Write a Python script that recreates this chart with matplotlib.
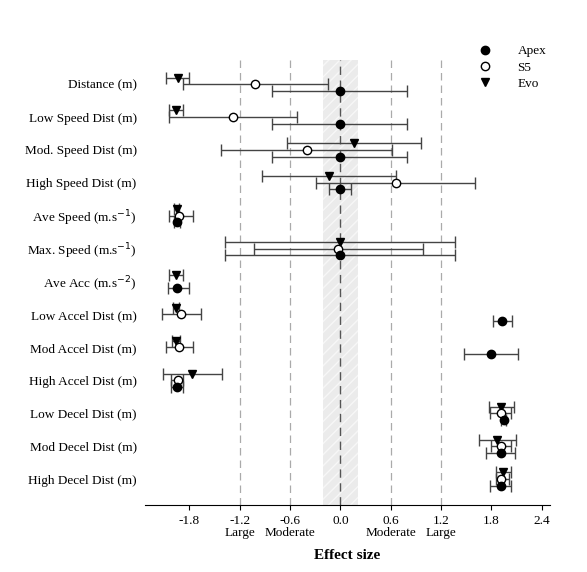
import numpy as np
import matplotlib.pyplot as plt
from matplotlib.lines import Line2D

plt.rcParams['font.family'] = ['Liberation Serif', 'DejaVu Serif']

variables = ['Distance (m)', 'Low Speed Dist (m)', 'Mod. Speed Dist (m)', 'High Speed Dist (m)',
             'Ave Speed (m.s$^{-1}$)', 'Max. Speed (m.s$^{-1}$)', 'Ave Acc (m.s$^{-2}$)',
             'Low Accel Dist (m)', 'Mod Accel Dist (m)', 'High Accel Dist (m)',
             'Low Decel Dist (m)', 'Mod Decel Dist (m)', 'High Decel Dist (m)']

# effect size, lower CI, upper CI
apex = [0.00, 0.00, 0.00, 0.00, -1.95, 0.00, -1.95, 1.93, 1.80, -1.95, 1.95, 1.91, 1.92]
apex_lo = [-0.81, -0.81, -0.81, -0.14, -1.99, -1.38, -2.05, 1.82, 1.48, -2.02, 1.92, 1.74, 1.79]
apex_hi = [0.80, 0.80, 0.80, 0.13, -1.91, 1.37, -1.80, 2.05, 2.12, -1.88, 1.98, 2.08, 2.04]

s5 = [-1.02, -1.28, -0.40, 0.66, -1.92, -0.03, np.nan, -1.90, -1.93, -1.94, 1.91, 1.92, 1.92]
s5_lo = [-1.88, -2.04, -1.42, -0.29, -2.04, -1.03, np.nan, -2.13, -2.08, -2.02, 1.78, 1.80, 1.85]
s5_hi = [-0.15, -0.52, 0.62, 1.60, -1.76, 0.98, np.nan, -1.66, -1.76, -1.88, 2.04, 2.04, 2.01]

evo = [-1.94, -1.96, 0.16, -0.14, -1.95, 0.00, -1.96, -1.96, -1.96, -1.77, 1.92, 1.87, 1.94]
evo_lo = [-2.08, -2.04, -0.64, -0.94, -1.98, -1.38, -2.04, -2.00, -2.01, -2.12, 1.77, 1.65, 1.86]
evo_hi = [-1.80, -1.88, 0.96, 0.66, -1.92, 1.37, -1.88, -1.92, -1.91, -1.41, 2.07, 2.10, 2.03]

fig = plt.figure(figsize=(5.87, 5.72), dpi=100)
ax = fig.add_axes([0.247, 0.117, 0.69, 0.778])

ax.axvspan(-0.21, 0.21, facecolor='#ebebeb', edgecolor='#f7f7f7', hatch='///', linewidth=0, zorder=0)
for xv in [-1.2, -0.6, 0.6, 1.2]:
    ax.axvline(xv, color='#aaaaaa', linestyle=(0, (6, 4)), linewidth=0.9, zorder=1)
ax.axvline(0, color='#555555', linestyle=(0, (6, 4)), linewidth=1.0, zorder=1)

y = np.arange(len(variables))
series = [(evo, evo_lo, evo_hi, -0.2, 'v', 'black'),
          (s5, s5_lo, s5_hi, 0.0, 'o', 'white'),
          (apex, apex_lo, apex_hi, 0.2, 'o', 'black')]
for vals, lo, hi, off, mk, fc in series:
    vals = np.array(vals); lo = np.array(lo); hi = np.array(hi)
    ok = ~np.isnan(vals)
    err = np.vstack([vals[ok] - lo[ok], hi[ok] - vals[ok]])
    ax.errorbar(vals[ok], y[ok] + off, xerr=err, fmt=mk, mfc=fc, mec='black', ms=6,
                ecolor='#444444', elinewidth=1.0, capsize=4, capthick=1.0, zorder=3)

ax.set_yticks(y)
ax.set_yticklabels(variables, fontsize=9.5)
ax.tick_params(axis='y', length=0, pad=6)
ax.set_ylim(12.79, -0.73)
ax.set_xlim(-2.33, 2.5)
ax.set_xticks([-1.8, -1.2, -0.6, 0.0, 0.6, 1.2, 1.8, 2.4])
ax.set_xticklabels(['-1.8', '-1.2', '-0.6', '0.0', '0.6', '1.2', '1.8', '2.4'], fontsize=9.5)
for s in ['top', 'right', 'left']:
    ax.spines[s].set_visible(False)
for xv, lab in [(-1.2, 'Large'), (-0.6, 'Moderate'), (0.6, 'Moderate'), (1.2, 'Large')]:
    ax.text(xv, -0.05, lab, transform=ax.get_xaxis_transform(), ha='center', va='top', fontsize=9.5)
ax.set_xlabel('Effect size', fontweight='bold', fontsize=11, labelpad=16)

handles = [Line2D([], [], marker='o', ls='', mfc='black', mec='black', ms=6, label='Apex'),
           Line2D([], [], marker='o', ls='', mfc='white', mec='black', ms=6, label='S5'),
           Line2D([], [], marker='v', ls='', mfc='black', mec='black', ms=6, label='Evo')]
ax.legend(handles=handles, loc='upper right', bbox_to_anchor=(1.02, 1.06), frameon=False,
          fontsize=9.5, handletextpad=1.5, labelspacing=0.3)

fig.savefig('out.png', dpi=100)
